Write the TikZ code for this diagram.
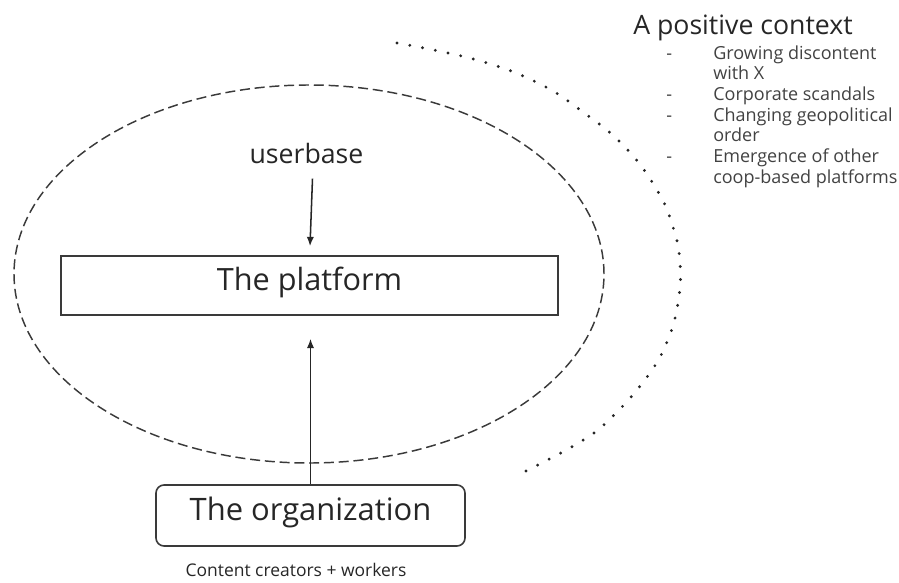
\documentclass[tikz,border=0pt]{standalone}
\usepackage{fontspec}
\setmainfont{Open Sans}
\usetikzlibrary{arrows.meta,calc}
\definecolor{ink}{HTML}{262626}
\definecolor{lineg}{HTML}{3A3A3A}
\definecolor{listink}{HTML}{424242}
\begin{document}
\begin{tikzpicture}[x=0.75pt,y=-0.75pt,
  boxstyle/.style={draw=lineg, line width=1.2pt, inner sep=0pt, text=ink},
  arr/.style={draw=ink, line width=1.15pt, -{Latex[length=7pt,width=5.5pt]}},
  lbl/.style={inner sep=0pt, text=ink}]
\useasboundingbox (0,0) rectangle (899,582);
% dashed ellipse
\draw[lineg, line width=1.1pt, dash pattern=on 7.5pt off 3.6pt] (309,274) ellipse [x radius=221.25pt, y radius=141.75pt];
% dotted arc
\draw[ink, line width=2.4pt, line cap=round, dash pattern=on 0pt off 9.75pt]
  plot[smooth, tension=0.7] coordinates {(397,43) (477,60) (538,83) (583,112) (625,147) (657,190) (673,227) (680,263) (678,303) (667,342) (647,377) (612,417) (580,442) (522,473)};
% nodes
\node[boxstyle, minimum width=372.75pt, minimum height=44.25pt, text height=0.75em, text depth=0pt,
  font=\fontsize{23}{27}\selectfont] (platform) at (309.5,285.5) {The platform};
\node[boxstyle, rounded corners=6pt, minimum width=231.75pt, minimum height=45.75pt, text height=0.77em, text depth=0pt,
  font=\fontsize{23.2}{27}\selectfont] (org) at (310.5,515.5) {The organization};
\node[lbl, anchor=base, font=\fontsize{20}{24}\selectfont] (user) at (306.5,163) {userbase};
\node[lbl, anchor=base, font=\fontsize{13.1}{16}\selectfont] (workers) at (296,576) {Content creators + workers};
\node[lbl, anchor=base west, font=\fontsize{20}{24}\selectfont] (title) at (633,34) {A positive context};
\node[inner sep=0pt, anchor=base west, text=listink, font=\fontsize{13.5}{15.5}\selectfont] (context) at (666,59)
  {\begin{tabular}[t]{@{}p{35.25pt}@{}l@{}}
   - & Growing discontent\\
     & with X\\
   - & Corporate scandals\\
   - & Changing geopolitical\\
     & order\\
   - & Emergence of other\\
     & coop-based platforms
   \end{tabular}};
% connectors
\draw[arr] ($(user.south)+(6,15)$) -- ($(platform.north)+(0.5,-9)$);
\draw[arr] (org.north -| 310.5,0) -- ($(platform.south)+(1,23)$);
\end{tikzpicture}
\end{document}
